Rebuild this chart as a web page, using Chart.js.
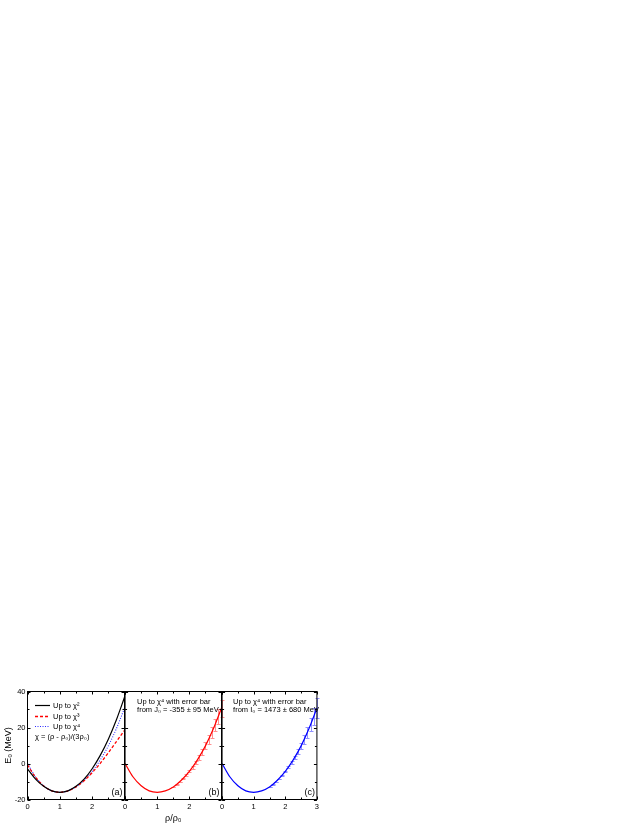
<!DOCTYPE html>
<html>
<head>
<meta charset="utf-8">
<script src="https://cdn.jsdelivr.net/npm/chart.js@4.4.0/dist/chart.umd.min.js"></script>
<style>
    html, body { margin: 0; padding: 0; background: #fff; }
    #page { position: relative; width: 638px; height: 825px; overflow: hidden; background: #fff; }
    #page canvas { position: absolute; }
</style>
</head>
<body>
<div id="page">
    <canvas id="panelA" width="128" height="145" style="left:0px;top:680px"></canvas>
    <canvas id="panelB" width="105" height="145" style="left:120px;top:680px"></canvas>
    <canvas id="panelC" width="105" height="145" style="left:217px;top:680px"></canvas>
</div>
<script>
// density in units of rho0, energy per nucleon in MeV
const rho = [0, 0.25, 0.5, 0.75, 1, 1.25, 1.5, 1.75, 2, 2.25, 2.5, 2.75, 3];
const upToChi2 = [-3.0, -8.7, -12.7, -15.2, -16, -15.2, -12.7, -8.7, -2.9, 4.5, 13.5, 24.3, 36.8];
const upToChi3 = [-0.8, -7.7, -12.5, -15.2, -16, -15.2, -13.0, -9.6, -5.1, 0.1, 6.0, 12.2, 18.4];
const upToChi4 = [0.0, -7.5, -12.4, -15.2, -16, -15.2, -13.0, -9.3, -4.4, 2.0, 9.8, 19.4, 30.8];

// error bars of the chi^4 curve
const errRho = [1.5, 1.6, 1.7, 1.8, 1.9, 2.0, 2.1, 2.2, 2.3, 2.4, 2.5, 2.6, 2.7, 2.8, 2.9, 3.0];
const errCenter = [-13.0, -11.7, -10.2, -8.5, -6.5, -4.4, -2.0, 0.6, 3.4, 6.5, 9.8, 13.4, 17.3, 21.5, 26.0, 30.8];
const errJ0 = [0.07, 0.13, 0.20, 0.30, 0.43, 0.59, 0.78, 1.01, 1.29, 1.61, 1.98, 2.40, 2.88, 3.42, 4.02, 4.69];
const errI0 = [0.02, 0.05, 0.08, 0.14, 0.23, 0.35, 0.51, 0.73, 1.00, 1.34, 1.77, 2.29, 2.92, 3.67, 4.56, 5.60];

const xTicks = [0, 1, 2, 3];
const yTicks = [-20, 0, 20, 40];

const FONT = '"Liberation Sans", Arial, sans-serif';
Chart.defaults.font.family = FONT;
Chart.defaults.font.size = 7.5;
Chart.defaults.color = '#000';

function points(ys) {
    return rho.map((r, i) => ({x: r, y: ys[i]}));
}

// box round the plot with inward ticks on all four sides
const framePlugin = {
    id: 'frame',
    afterDraw(chart) {
        const {ctx, chartArea: a, scales: {x, y}} = chart;
        ctx.save();
        ctx.strokeStyle = '#000';
        ctx.lineWidth = 1;
        ctx.strokeRect(a.left, a.top, a.right - a.left, a.bottom - a.top);
        ctx.beginPath();
        for (let v = x.min; v <= x.max + 1e-6; v += 0.5) {
            const px = Math.round(x.getPixelForValue(v)) + 0.5;
            const len = Math.abs(v - Math.round(v)) < 1e-6 ? 3 : 2;
            ctx.moveTo(px, a.bottom); ctx.lineTo(px, a.bottom - len);
            ctx.moveTo(px, a.top); ctx.lineTo(px, a.top + len);
        }
        for (let v = y.min; v <= y.max + 1e-6; v += 10) {
            const py = Math.round(y.getPixelForValue(v)) + 0.5;
            const len = v % 20 === 0 ? 3 : 2;
            ctx.moveTo(a.left, py); ctx.lineTo(a.left + len, py);
            ctx.moveTo(a.right, py); ctx.lineTo(a.right - len, py);
        }
        ctx.stroke();
        ctx.restore();
    }
};

const errorBarPlugin = {
    id: 'errorBars',
    beforeDatasetsDraw(chart, args, opts) {
        if (!opts.err) return;
        const {ctx, scales: {x, y}} = chart;
        ctx.save();
        ctx.strokeStyle = opts.color;
        ctx.lineWidth = 1;
        ctx.beginPath();
        errRho.forEach((r, i) => {
            const px = Math.round(x.getPixelForValue(r)) + 0.5;
            const y1 = Math.round(y.getPixelForValue(errCenter[i] + opts.err[i])) + 0.5;
            const y2 = Math.round(y.getPixelForValue(errCenter[i] - opts.err[i])) + 0.5;
            ctx.moveTo(px, y1); ctx.lineTo(px, y2);
            ctx.moveTo(px - 2, y1); ctx.lineTo(px + 2, y1);
            ctx.moveTo(px - 2, y2); ctx.lineTo(px + 2, y2);
        });
        ctx.stroke();
        ctx.restore();
    }
};

// legend of panel (a), drawn from the datasets themselves
const curveLegendPlugin = {
    id: 'curveLegend',
    afterDatasetsDraw(chart, args, opts) {
        if (!opts.rows) return;
        const {ctx, chartArea: a} = chart;
        ctx.save();
        ctx.font = '7.5px ' + FONT;
        ctx.textBaseline = 'middle';
        chart.data.datasets.forEach((ds, i) => {
            const yy = Math.round(a.top + opts.rows[i]) + 0.5;
            ctx.strokeStyle = ds.borderColor;
            ctx.lineWidth = ds.borderWidth;
            ctx.setLineDash(ds.borderDash || []);
            ctx.beginPath();
            ctx.moveTo(a.left + 7.5, yy);
            ctx.lineTo(a.left + 22.5, yy);
            ctx.stroke();
            ctx.setLineDash([]);
            ctx.fillStyle = '#000';
            ctx.fillText(ds.label, a.left + 25.5, yy);
        });
        ctx.restore();
    }
};

// free text inside the plot area
const notesPlugin = {
    id: 'notes',
    afterDatasetsDraw(chart, args, opts) {
        if (!opts.lines) return;
        const {ctx, chartArea: a} = chart;
        ctx.save();
        ctx.fillStyle = '#000';
        ctx.textBaseline = 'middle';
        opts.lines.forEach(l => {
            ctx.font = (l.size || 7.5) + 'px ' + FONT;
            ctx.textAlign = l.align || 'left';
            const xx = l.align === 'right' ? a.right - l.dx : a.left + l.dx;
            const yy = l.fromBottom ? a.bottom - l.dy : a.top + l.dy;
            ctx.fillText(l.text, xx, yy);
        });
        ctx.restore();
    }
};

function makePanel(id, datasets, opts) {
    new Chart(document.getElementById(id), {
        type: 'line',
        data: {datasets: datasets},
        options: {
            responsive: false,
            animation: false,
            devicePixelRatio: 1,
            layout: {padding: {left: opts.padLeft, right: 3.5, top: 11.5, bottom: 0}},
            elements: {point: {radius: 0}, line: {cubicInterpolationMode: 'monotone'}},
            scales: {
                x: {
                    type: 'linear',
                    min: 0,
                    max: 3,
                    grid: {display: false, drawTicks: false},
                    border: {display: false},
                    afterBuildTicks: s => { s.ticks = xTicks.map(v => ({value: v})); },
                    ticks: {
                        padding: 3,
                        maxRotation: 0,
                        callback: v => (v === 3 && !opts.lastLabel) ? '' : String(v)
                    },
                    title: {
                        display: !!opts.xTitle,
                        text: opts.xTitle || '',
                        font: {size: 9},
                        padding: {top: 0, bottom: 1}
                    },
                    afterFit: s => { s.height = 25.5; }
                },
                y: {
                    type: 'linear',
                    display: opts.yAxis,
                    min: -20,
                    max: 40,
                    grid: {display: false, drawTicks: false},
                    border: {display: false},
                    afterBuildTicks: s => { s.ticks = yTicks.map(v => ({value: v})); },
                    ticks: {padding: 2},
                    title: {
                        display: opts.yAxis,
                        text: 'E₀ (MeV)',
                        font: {size: 9},
                        padding: {top: 3, bottom: 0}
                    },
                    afterFit: s => { s.width = opts.yAxis ? 27.5 : 0; }
                }
            },
            plugins: {
                legend: {display: false},
                tooltip: {enabled: false},
                errorBars: opts.errorBars || {},
                curveLegend: opts.curveLegend || {},
                notes: {lines: opts.notes}
            }
        },
        plugins: [errorBarPlugin, curveLegendPlugin, notesPlugin, framePlugin]
    });
}

makePanel('panelA', [
    {label: 'Up to χ²', data: points(upToChi2), borderColor: '#000000', borderWidth: 1.2},
    {label: 'Up to χ³', data: points(upToChi3), borderColor: '#ff0000', borderWidth: 1.3, borderDash: [3, 2]},
    {label: 'Up to χ⁴', data: points(upToChi4), borderColor: '#2a2aff', borderWidth: 1.1, borderDash: [1, 1.5]}
], {
    padLeft: 0,
    yAxis: true,
    lastLabel: false,
    curveLegend: {rows: [13.5, 24, 34]},
    notes: [
        {text: 'χ = (ρ - ρ₀)/(3ρ₀)', dx: 7.5, dy: 45},
        {text: '(a)', dx: 2, dy: 7, align: 'right', fromBottom: true, size: 9}
    ]
});

makePanel('panelB', [
    {label: 'Up to χ⁴', data: points(upToChi4), borderColor: '#ff0000', borderWidth: 1.2}
], {
    padLeft: 4.5,
    yAxis: false,
    lastLabel: false,
    xTitle: 'ρ/ρ₀',
    errorBars: {err: errJ0, color: '#ff9090'},
    notes: [
        {text: 'Up to χ⁴ with error bar', dx: 12, dy: 10},
        {text: 'from J₀ = -355 ± 95 MeV', dx: 12, dy: 18.5},
        {text: '(b)', dx: 2, dy: 7, align: 'right', fromBottom: true, size: 9}
    ]
});

makePanel('panelC', [
    {label: 'Up to χ⁴', data: points(upToChi4), borderColor: '#0000ff', borderWidth: 1.2}
], {
    padLeft: 4.5,
    yAxis: false,
    lastLabel: true,
    errorBars: {err: errI0, color: '#9090ff'},
    notes: [
        {text: 'Up to χ⁴ with error bar', dx: 11, dy: 10},
        {text: 'from I₀ = 1473 ± 680 MeV', dx: 11, dy: 18.5},
        {text: '(c)', dx: 2, dy: 7, align: 'right', fromBottom: true, size: 9}
    ]
});
</script>
</body>
</html>
